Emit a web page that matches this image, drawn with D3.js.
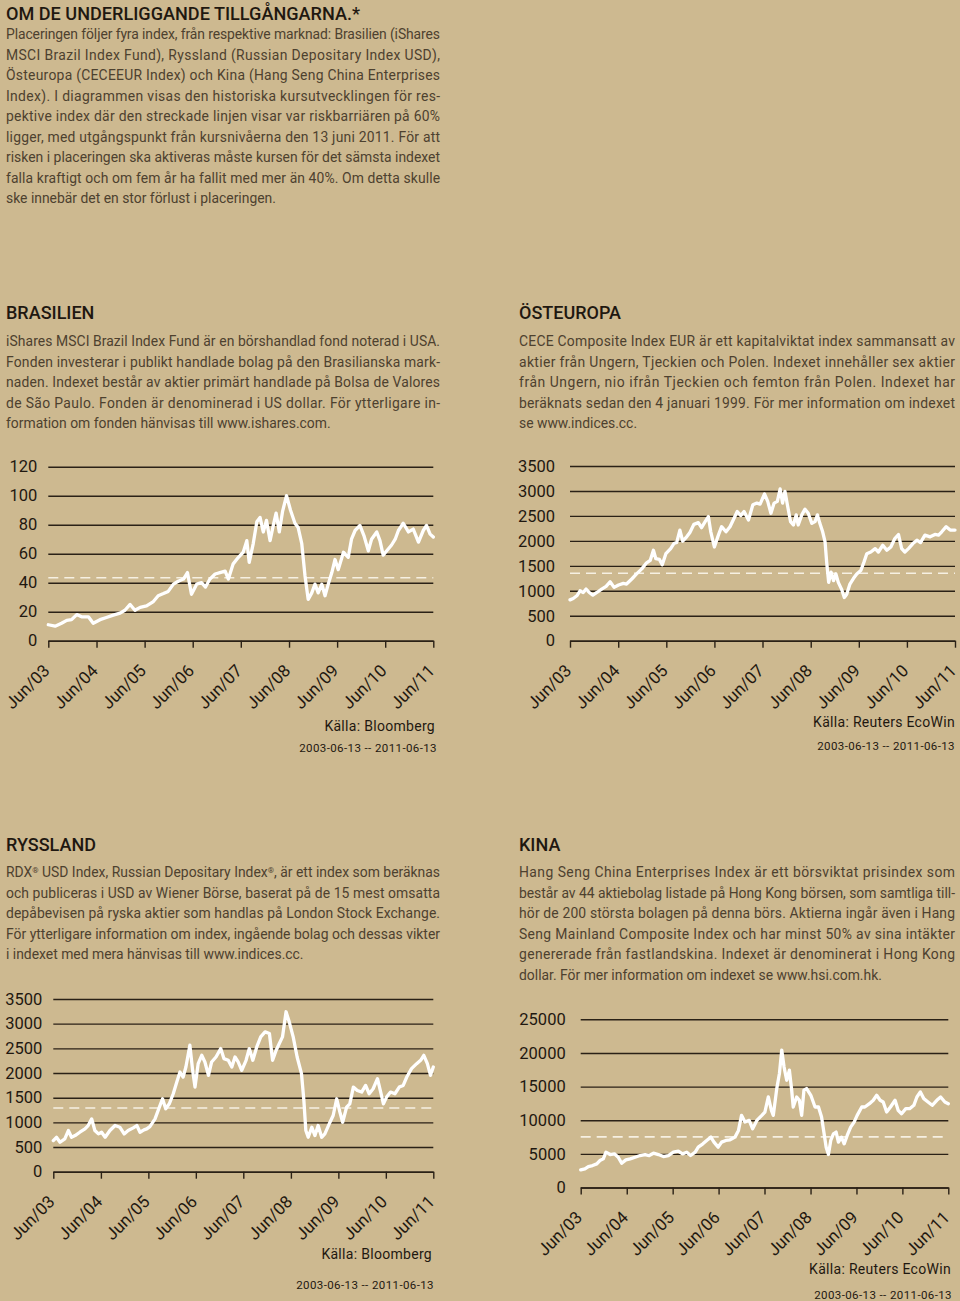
<!DOCTYPE html>
<html><head><meta charset="utf-8">
<script src="https://cdn.jsdelivr.net/npm/d3@7"></script>
<style>
html,body{margin:0;padding:0;background:#CDB990;}
svg{display:block;font-family:Roboto,"Noto Sans",sans-serif;}
</style></head><body>
<svg id="c" width="960" height="1301"></svg>
<script>
// ---- data: [months since 2003-06-13, value] ----
const xTickLabels = ["Jun/03","Jun/04","Jun/05","Jun/06","Jun/07","Jun/08","Jun/09","Jun/10","Jun/11"];

const brazilTicks = [0,20,40,60,80,100,120];
const brazilBarrier = 43.4;
const brazilData = [[0,11],[1.7,10],[3.3,12],[4.6,14],[5.8,14.5],[7.1,18],[8.3,16.5],[10,16.5],[11.2,12],[12.9,14.5],[14.5,16],[16.2,17.6],[17.9,19],[19.1,21],[20.4,25],[21.6,21],[22.9,23],[24.5,24],[26.2,27],[27.4,31],[28.7,32.5],[29.9,34],[31.2,39],[32.4,41],[33.7,42.5],[34.7,47],[35.7,32],[37,39],[38.2,40],[39.2,37],[40.3,42.5],[41.6,46],[42.8,47],[44.1,48],[44.9,42.5],[46.1,53],[47.4,57.5],[48.6,61],[49.5,69],[50.1,54],[51.1,67],[52,82],[52.8,85],[53.6,75],[54.4,83],[55.3,69],[56.1,79.5],[56.8,88],[57.6,75],[58.4,89],[59.4,100],[60.4,90],[61.5,81],[62.3,78],[63.2,67],[64,45],[64.8,28.5],[65.7,33],[66.5,39],[67.3,33],[68.2,39],[69,31],[69.8,39],[70.7,47],[71.5,56],[72.3,49],[73.6,61],[74.8,57.5],[75.6,70],[76.5,76],[77.7,79.5],[78.7,72.5],[79.8,62],[80.6,70],[81.9,75],[82.7,69],[83.5,59],[84.4,62],[85.6,66],[86.5,70],[87.3,76],[88.5,81],[89.8,75],[91,77],[92.3,68],[93.5,76],[94.3,79.5],[95.2,73.5],[96,71.5]];

const easternTicks = [0,500,1000,1500,2000,2500,3000,3500];
const easternBarrier = 1350;
const easternData = [[0,818],[0.8,845],[1.7,900],[2.5,1000],[3.3,966],[4,1034],[4.8,966],[5.7,912],[6.7,966],[7.9,1034],[9,1088],[10,1182],[11,1068],[12.1,1115],[13.3,1149],[14.1,1135],[15.4,1236],[16.6,1338],[17.9,1439],[19.1,1561],[20,1608],[20.8,1811],[21.4,1642],[22.3,1628],[23,1520],[23.9,1743],[25.1,1845],[25.9,1946],[26.6,1966],[27.4,2216],[28.1,1993],[29.1,2081],[29.9,2169],[30.9,2331],[32,2365],[32.8,2264],[33.7,2385],[34.5,2487],[35.1,2182],[36,1878],[37,2115],[37.8,2284],[38.9,2182],[39.9,2284],[40.7,2419],[41.7,2588],[42.6,2507],[43.4,2588],[44.5,2419],[45.6,2723],[46.6,2757],[47.4,2737],[48.5,2939],[49.3,2791],[50.1,2554],[50.9,2757],[51.7,2791],[52.4,3040],[53,2757],[53.6,2993],[54.2,2723],[55,2385],[55.7,2318],[56.4,2520],[56.9,2318],[57.8,2520],[58.6,2635],[59.4,2554],[60.3,2351],[61.1,2385],[61.7,2520],[62.3,2351],[63,2182],[63.6,1980],[64,1574],[64.5,1169],[65.1,1372],[65.7,1203],[66.3,1338],[66.9,1169],[67.7,1034],[68.4,865],[69,932],[69.8,1135],[70.7,1250],[71.5,1338],[72.5,1405],[73.3,1574],[74,1743],[75,1777],[76.1,1845],[76.9,1777],[78,1912],[79,1811],[80,1878],[81,2047],[81.9,2128],[82.7,1845],[83.5,1777],[84.4,1845],[85.5,1946],[86.5,2013],[87.4,1966],[88.5,2115],[89.8,2081],[91,2128],[91.9,2115],[92.7,2182],[93.8,2284],[94.8,2216],[96,2216]];

const russiaTicks = [0,500,1000,1500,2000,2500,3000,3500];
const russiaBarrier = 1290;
const russiaData = [[0,630],[0.8,698],[1.7,597],[2.9,664],[3.8,834],[4.6,698],[5.5,732],[6.7,800],[8,868],[8.8,936],[9.7,1071],[10.5,834],[11.4,766],[12.2,800],[13.1,698],[14.3,834],[15.6,936],[16.8,902],[17.9,766],[18.9,834],[20.2,888],[21.1,936],[21.9,800],[22.9,848],[23.6,868],[24.4,915],[25.7,1071],[26.8,1309],[27.6,1478],[28.4,1275],[29.3,1376],[30.3,1580],[31.2,1817],[32,2020],[32.8,1919],[33.5,2122],[34.5,2563],[35.2,2054],[35.8,1715],[36.6,2190],[37.5,2359],[38.3,2224],[39.2,1953],[40,2224],[41.1,2325],[42.3,2495],[43.1,2292],[44.2,2258],[45.1,2122],[45.9,2325],[46.7,2224],[47.6,2054],[48.7,2258],[49.5,2495],[50.4,2258],[51.4,2529],[52.4,2732],[53.5,2834],[54.6,2800],[55.4,2258],[56.3,2461],[57.1,2597],[57.9,2732],[58.8,3241],[59.6,3037],[60.6,2732],[61.6,2325],[62.7,1987],[63.3,1444],[63.8,834],[64.4,698],[65.3,902],[66.1,732],[66.9,936],[67.8,698],[68.6,766],[69.9,1003],[70.7,1139],[71.6,1478],[72.4,1207],[73.1,1003],[74.1,1309],[74.9,1376],[75.8,1715],[76.8,1647],[77.9,1614],[78.9,1749],[79.8,1580],[80.8,1681],[81.9,1885],[82.8,1580],[83.4,1376],[84.2,1512],[85.2,1614],[86.3,1580],[87.4,1715],[88.4,1749],[89.3,1919],[90.5,2088],[91.8,2190],[92.8,2258],[93.6,2359],[94.5,2190],[95.3,1953],[96,2122]];

const chinaTicks = [0,5000,10000,15000,20000,25000];
const chinaBarrier = 7520;
const chinaData = [[0,2612],[1.1,2761],[2,3109],[3.1,3259],[4.2,3507],[5,4005],[5.9,4254],[6.6,5249],[7.7,4900],[8.8,5000],[9.8,4502],[10.7,3607],[11.8,4104],[12.9,4254],[14.2,4502],[15.5,4751],[16.8,4900],[17.9,4751],[19,5100],[20.3,4900],[21.6,4602],[22.9,4751],[24.2,5249],[25.5,5398],[26.6,5000],[27.7,5249],[28.7,4751],[29.9,5249],[30.7,5995],[31.9,6493],[32.9,6990],[34,7488],[34.8,6741],[35.9,5995],[36.8,6741],[37.9,6990],[39,7090],[40.3,7488],[41.2,8483],[42,10721],[42.9,9726],[44,9975],[44.9,8732],[46,9975],[47.3,10721],[48.1,11218],[49,13457],[49.8,11467],[50.3,10721],[51.2,14701],[51.9,16940],[52.5,20423],[53.1,17935],[53.8,15945],[54.5,17438],[55.1,14452],[55.5,11965],[56.4,13457],[57.1,12960],[57.7,10721],[58.3,14452],[59,14701],[60.1,13706],[61.2,11965],[62.1,11965],[62.9,10472],[63.5,8234],[64.1,5995],[64.7,4900],[65.3,6990],[66,7985],[66.7,8234],[67.3,6741],[68.1,7488],[68.8,6493],[69.6,7737],[70.5,8981],[71.4,9726],[72.2,10721],[73.4,11965],[74.2,11965],[75.4,12462],[76.4,12960],[77.3,13706],[78.2,12960],[79,12711],[79.9,11218],[80.9,11965],[82.1,12960],[82.9,11467],[83.8,10970],[84.9,11716],[85.9,11716],[87,12213],[87.8,13457],[88.7,14204],[89.6,13209],[90.7,12711],[91.8,12213],[93,12960],[94,13457],[95.1,12711],[96,12462]];

// ---- texts ----
const introTitle = "OM DE UNDERLIGGANDE TILLGÅNGARNA.*";
const introLines = [
"Placeringen följer fyra index, från respektive marknad: Brasilien (iShares",
"MSCI Brazil Index Fund), Ryssland (Russian Depositary Index USD),",
"Östeuropa (CECEEUR Index) och Kina (Hang Seng China Enterprises",
"Index). I diagrammen visas den historiska kursutvecklingen för res-",
"pektive index där den streckade linjen visar var riskbarriären på 60%",
"ligger, med utgångspunkt från kursnivåerna den 13 juni 2011. För att",
"risken i placeringen ska aktiveras måste kursen för det sämsta indexet",
"falla kraftigt och om fem år ha fallit med mer än 40%. Om detta skulle",
"ske innebär det en stor förlust i placeringen."];
const brazilLines = [
"iShares MSCI Brazil Index Fund är en börshandlad fond noterad i USA.",
"Fonden investerar i publikt handlade bolag på den Brasilianska mark-",
"naden. Indexet består av aktier primärt handlade på Bolsa de Valores",
"de São Paulo. Fonden är denominerad i US dollar. För ytterligare in-",
"formation om fonden hänvisas till www.ishares.com."];
const easternLines = [
"CECE Composite Index EUR är ett kapitalviktat index sammansatt av",
"aktier från Ungern, Tjeckien och Polen. Indexet innehåller sex aktier",
"från Ungern, nio ifrån Tjeckien och femton från Polen. Indexet har",
"beräknats sedan den 4 januari 1999. För mer information om indexet",
"se www.indices.cc."];
const russiaLines = [
"RDX® USD Index, Russian Depositary Index®, är ett index som beräknas",
"och publiceras i USD av Wiener Börse, baserat på de 15 mest omsatta",
"depåbevisen på ryska aktier som handlas på London Stock Exchange.",
"För ytterligare information om index, ingående bolag och dessas vikter",
"i indexet med mera hänvisas till www.indices.cc."];
const chinaLines = [
"Hang Seng China Enterprises Index är ett börsviktat prisindex som",
"består av 44 aktiebolag listade på Hong Kong börsen, som samtliga till-",
"hör de 200 största bolagen på denna börs. Aktierna ingår även i Hang",
"Seng Mainland Composite Index och har minst 50% av sina intäkter",
"genererade från fastlandskina. Indexet är denominerat i Hong Kong",
"dollar. För mer information om indexet se www.hsi.com.hk."];
const dateRange = "2003-06-13 -- 2011-06-13";

const DARK = "#1f1810", BODY = "#4d412f";
const svg = d3.select("#c");

function heading(txt, x, y, size, len){
  const t = svg.append("text").attr("x",x).attr("y",y).attr("fill",DARK)
    .attr("font-size",size).attr("font-weight",500).text(txt);
  if(len) t.attr("textLength",len).attr("lengthAdjust","spacingAndGlyphs");
}
function paragraph(lines, x, y0, width){
  lines.forEach((ln,i)=>{
    const t = svg.append("text").attr("x",x).attr("y",y0+i*20.5)
      .attr("fill",BODY).attr("font-size",13.9);
    const parts = ln.split("®");
    parts.forEach((p,j)=>{
      t.append("tspan").text(p);
      if(j<parts.length-1) t.append("tspan").attr("font-size",8).attr("baseline-shift","super").text("®");
    });
    if(i<lines.length-1) t.attr("textLength",width).attr("lengthAdjust","spacing");
  });
}

heading(introTitle, 6, 20, 18.5, 354);
paragraph(introLines, 6, 39, 434);
heading("BRASILIEN", 6, 318.5, 18);
paragraph(brazilLines, 6, 346, 434);
heading("ÖSTEUROPA", 519, 318.5, 18);
paragraph(easternLines, 519, 346, 436);
heading("RYSSLAND", 6, 850.5, 18);
paragraph(russiaLines, 6, 877, 434);
heading("KINA", 519, 850.5, 18);
paragraph(chinaLines, 519, 877, 436);

const start = new Date(2003,5,13), end = new Date(2011,5,13);
const toDate = t => new Date(+start + t/96*(end-start));
const tickDates = d3.range(2003,2012).map(y=>new Date(y,5,13));

function chart(cfg){
  const x = d3.scaleTime().domain([start,end]).range([cfg.x0,cfg.x1]);
  const y = d3.scaleLinear().domain([0,cfg.max]).range([cfg.y0,cfg.y1]);
  const g = svg.append("g");
  const ya = g.append("g").attr("transform",`translate(${cfg.x0},0)`)
    .call(d3.axisLeft(y).tickValues(cfg.ticks).tickSize(-(cfg.x1-cfg.x0)).tickPadding(cfg.pad).tickFormat(d3.format("d")));
  ya.select(".domain").remove();
  ya.selectAll(".tick line").attr("stroke","#2a2116").attr("stroke-width",1.4);
  ya.selectAll(".tick text").attr("fill",DARK).attr("font-size",16.5).attr("font-family","Roboto,sans-serif");
  const xa = g.append("g").attr("transform",`translate(0,${cfg.y0})`)
    .call(d3.axisBottom(x).tickValues(tickDates).tickSize(7).tickSizeOuter(0).tickFormat((d,i)=>xTickLabels[i]));
  xa.select(".domain").attr("stroke","#2a2116").attr("stroke-width",1.4);
  xa.selectAll(".tick line").attr("stroke","#2a2116").attr("stroke-width",1.4);
  xa.selectAll(".tick text").attr("fill",DARK).attr("font-size",17).attr("font-family","Roboto,sans-serif")
    .attr("x",null).attr("y",null).attr("dy",null).attr("text-anchor","end")
    .attr("transform","translate(2,31) rotate(-45)");
  g.append("line").attr("x1",cfg.x0).attr("x2",cfg.x1)
    .attr("y1",y(cfg.barrier)).attr("y2",y(cfg.barrier))
    .attr("stroke","#f6f0e2").attr("stroke-width",1.6).attr("stroke-dasharray","10,6");
  g.append("path").datum(cfg.data)
    .attr("d", d3.line().x(d=>x(toDate(d[0]))).y(d=>y(d[1])))
    .attr("fill","none").attr("stroke","#ffffff").attr("stroke-width",3.3)
    .attr("stroke-linejoin","round").attr("stroke-linecap","round");
  g.append("text").attr("x",cfg.srcX).attr("y",cfg.srcY).attr("text-anchor","end")
    .attr("fill",DARK).attr("font-size",14).attr("letter-spacing",0.3).text(cfg.source);
  g.append("text").attr("x",cfg.dateX).attr("y",cfg.dateY).attr("text-anchor","end")
    .attr("fill",DARK).attr("font-size",11.5).attr("letter-spacing",0.4).text(dateRange);
}

chart({x0:48.3,x1:433.3,y0:640.7,y1:466.7,max:120,ticks:brazilTicks,pad:11,barrier:brazilBarrier,data:brazilData,
  source:"Källa: Bloomberg",srcX:435,srcY:731,dateX:437,dateY:752});
chart({x0:570,x1:955,y0:640.7,y1:466,max:3500,ticks:easternTicks,pad:15,barrier:easternBarrier,data:easternData,
  source:"Källa: Reuters EcoWin",srcX:955,srcY:727,dateX:955,dateY:750});
chart({x0:53.3,x1:433.3,y0:1171.7,y1:999,max:3500,ticks:russiaTicks,pad:11,barrier:russiaBarrier,data:russiaData,
  source:"Källa: Bloomberg",srcX:432,srcY:1259,dateX:434,dateY:1289});
chart({x0:580.7,x1:948.3,y0:1187.5,y1:1019.3,max:25000,ticks:chinaTicks,pad:15,barrier:chinaBarrier,data:chinaData,
  source:"Källa: Reuters EcoWin",srcX:951,srcY:1274,dateX:952,dateY:1299});
</script>
</body></html>
